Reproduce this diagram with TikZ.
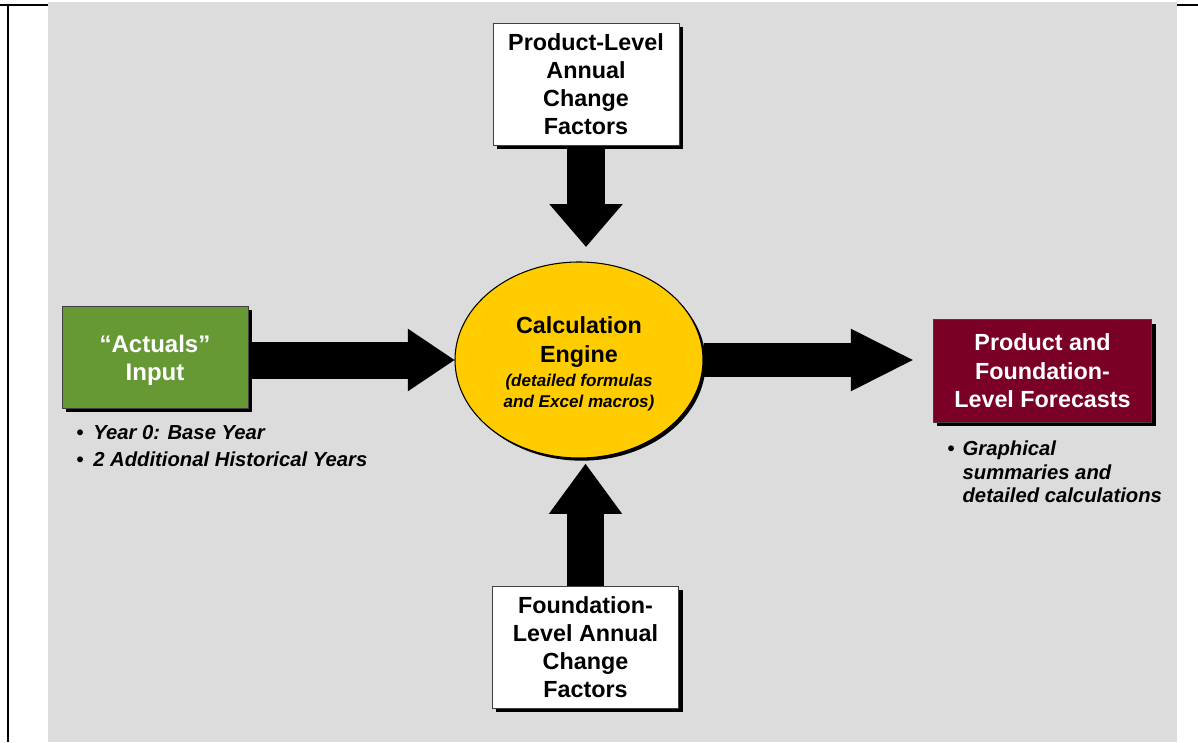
\documentclass[tikz,border=0pt]{standalone}
\usepackage{fontspec}
\setmainfont{Liberation Sans}
\usetikzlibrary{arrows.meta,shapes.geometric,shadows}
\definecolor{bggray}{HTML}{DCDCDC}
\definecolor{actgreen}{HTML}{669933}
\definecolor{fcmaroon}{HTML}{7A0025}
\definecolor{engyellow}{HTML}{FFCC00}
\pgfdeclarelayer{bg}
\pgfdeclarelayer{mid}
\pgfsetlayers{bg,mid,main}
\begin{document}
\begin{tikzpicture}[x=0.75pt,y=-0.75pt,
  box/.style={rectangle, draw=black!75, line width=0.6pt, inner sep=0pt, align=center,
    font=\bfseries\fontsize{17.5}{21}\selectfont,
    drop shadow={shadow xshift=3pt, shadow yshift=-3pt, fill=black, opacity=1}},
  bultext/.style={inner sep=0pt, align=left, font=\bfseries\itshape\fontsize{15.2}{20}\selectfont},
  bigarrow/.style={line width=#1, draw=black},
]
\useasboundingbox (0,0) rectangle (1198,742);
\begin{pgfonlayer}{bg}
  \draw[line width=1.4pt] (0,5) -- (1198,5);
  \draw[line width=1.6pt] (8,4.5) -- (8,742);
  \fill[bggray] (48,2) rectangle (1177,742);
\end{pgfonlayer}

% nodes
\node[box, fill=white, minimum width=139.5pt, minimum height=91.5pt] (top) at (586,84)
  {Product-Level\\Annual\\Change\\Factors};
\node[box, fill=white, minimum width=140pt, minimum height=91.5pt] (bot) at (585.5,647)
  {Foundation-\\Level Annual\\Change\\Factors};
\node[box, fill=actgreen, minimum width=139.5pt, minimum height=76.5pt] (act) at (155,357) {};
\node[inner sep=0pt, align=center, text=white, font=\bfseries\fontsize{18}{21}\selectfont] (acttxt) at (155,360)
  {“Actuals”\\Input};
\node[box, fill=fcmaroon, text=white, minimum width=164pt, minimum height=77pt,
  font=\bfseries\fontsize{17.5}{21.4}\selectfont] (fc) at (1042.5,371)
  {Product and\\Foundation-\\Level Forecasts};
\node[ellipse, draw=black, line width=0.8pt, fill=engyellow, inner sep=0pt,
  minimum width=186pt, minimum height=147pt,
  drop shadow={shadow xshift=2pt, shadow yshift=-2pt, fill=black, opacity=1}] (eng) at (579,360) {};
\node[inner sep=0pt, align=center, font=\bfseries\fontsize{17.5}{21.75}\selectfont] (engtxt) at (579,342.5)
  {Calculation\\Engine};
\node[inner sep=0pt, align=center, font=\bfseries\itshape\fontsize{12.8}{15.75}\selectfont] (engsub) at (579,393)
  {(detailed formulas\\and Excel macros)};

\node[bultext, anchor=north west] (b1) at (76,425.5)
  {\makebox[12.75pt][l]{\textbullet}Year 0: Base Year\\
   \makebox[12.75pt][l]{\textbullet}2 Additional Historical Years};
\node[bultext, anchor=north west, font=\bfseries\itshape\fontsize{15.2}{17.6}\selectfont] (b2) at (947,441)
  {\makebox[11.5pt][l]{\textbullet}Graphical\\
   \hspace*{11.5pt}summaries and\\
   \hspace*{11.5pt}detailed calculations};

% connectors
\begin{pgfonlayer}{mid}
  \draw[bigarrow=27.75pt, -{Triangle[length=35pt, width=47pt, line width=0pt]}]
    (act.east |- eng.west) -- (eng.west);
  \draw[bigarrow=26pt, -{Triangle[length=46.5pt, width=47pt, line width=0pt]},
    shorten >=15pt] (eng.east) -- (eng.east -| fc.west);
  \draw[bigarrow=28.5pt, -{Triangle[length=32pt, width=55pt, line width=0pt]},
    shorten >=11pt] (top.south) -- (top.south |- eng.north);
  \draw[bigarrow=28pt, -{Triangle[length=37.5pt, width=55pt, line width=0pt]},
    shorten >=4pt] (bot.north) -- (bot.north |- eng.south);
\end{pgfonlayer}
\end{tikzpicture}
\end{document}
